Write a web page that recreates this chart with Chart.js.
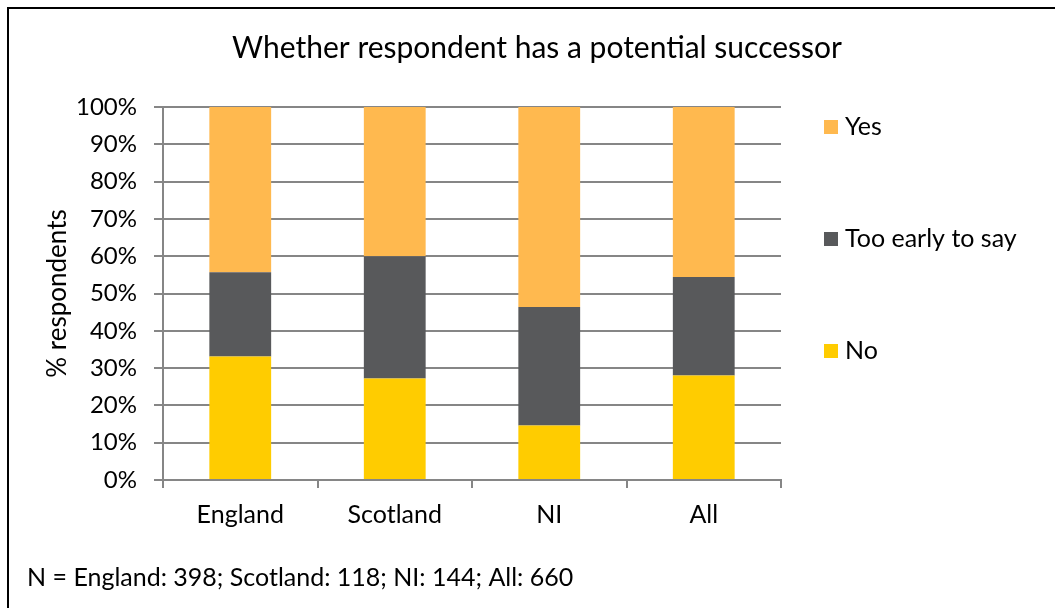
<!DOCTYPE html>
<html>
<head>
<meta charset="utf-8">
<script src="https://cdn.jsdelivr.net/npm/chart.js@4"></script>
<style>
  body { margin: 0; background: #fff; }
  #wrap { width: 1055px; height: 608px; }
</style>
</head>
<body>
<div id="wrap"><canvas id="successorChart"></canvas></div>
<script>
const categories = ['England', 'Scotland', 'NI', 'All'];
const noValues = [33.1, 27.2, 14.6, 28.0];
const tooEarlyValues = [22.6, 32.8, 31.8, 26.4];
const yesValues = [44.3, 40.0, 53.6, 45.6];
const seriesNames = ['No', 'Too early to say', 'Yes'];
const barColors = ['#FFCC00', '#58595B', '#FFB94F'];
const chartTitle = 'Whether respondent has a potential successor';
const footnote = 'N = England: 398; Scotland: 118; NI: 144; All: 660';

const fontName = 'Lato, "Open Sans", sans-serif';
const gridColor = '#868686';

// title, legend, frame and footnote drawn by hand, Excel-style
const extras = {
  id: 'extras',
  afterDraw(chart) {
    const c = chart.ctx;
    c.save();
    c.strokeStyle = '#000';
    c.lineWidth = 2;
    c.beginPath();
    c.moveTo(8, 608);
    c.lineTo(8, 8);
    c.lineTo(1055, 8);
    c.stroke();

    c.fillStyle = '#000';
    c.textBaseline = 'middle';
    c.textAlign = 'center';
    c.font = '30px ' + fontName;
    c.fillText(chartTitle, 537, 48);

    c.textAlign = 'left';
    c.font = '25px ' + fontName;
    const legendY = [351, 239, 127];
    chart.data.datasets.forEach((ds, i) => {
      c.fillStyle = ds.backgroundColor;
      c.fillRect(824, legendY[i] - 7, 14, 14);
      c.fillStyle = '#000';
      c.fillText(ds.label, 845, legendY[i]);
    });

    c.font = '25px ' + fontName;
    c.fillText(footnote, 27, 578);
    c.restore();
  }
};

const ctx = document.getElementById('successorChart');

new Chart(ctx, {
  type: 'bar',
  data: {
    labels: categories,
    datasets: [
      { label: seriesNames[0], data: noValues, backgroundColor: barColors[0] },
      { label: seriesNames[1], data: tooEarlyValues, backgroundColor: barColors[1] },
      { label: seriesNames[2], data: yesValues, backgroundColor: barColors[2] }
    ]
  },
  options: {
    responsive: true,
    maintainAspectRatio: false,
    animation: false,
    barPercentage: 0.4,
    categoryPercentage: 1,
    layout: { padding: { left: 0, right: 274, top: 107, bottom: 68 } },
    plugins: {
      legend: { display: false },
      tooltip: { enabled: false }
    },
    scales: {
      x: {
        stacked: true,
        afterFit(scale) { scale.height = 60; },
        grid: {
          offset: true,
          drawOnChartArea: false,
          drawTicks: true,
          tickLength: 8,
          color: gridColor,
          lineWidth: 2
        },
        border: { color: gridColor, width: 2 },
        ticks: {
          color: '#000',
          padding: 12,
          font: { family: fontName, size: 25 }
        }
      },
      y: {
        stacked: true,
        min: 0,
        max: 100,
        afterFit(scale) { scale.width = 163; },
        grid: {
          color: gridColor,
          lineWidth: 2,
          tickLength: 9
        },
        border: { color: gridColor, width: 2 },
        ticks: {
          stepSize: 10,
          color: '#000',
          padding: 17,
          font: { family: fontName, size: 24 },
          callback: (v) => v + '%'
        },
        title: {
          display: true,
          text: '% respondents',
          color: '#000',
          font: { family: fontName, size: 26 },
          padding: { top: 42, bottom: 0 }
        }
      }
    }
  },
  plugins: [extras]
});
</script>
</body>
</html>
